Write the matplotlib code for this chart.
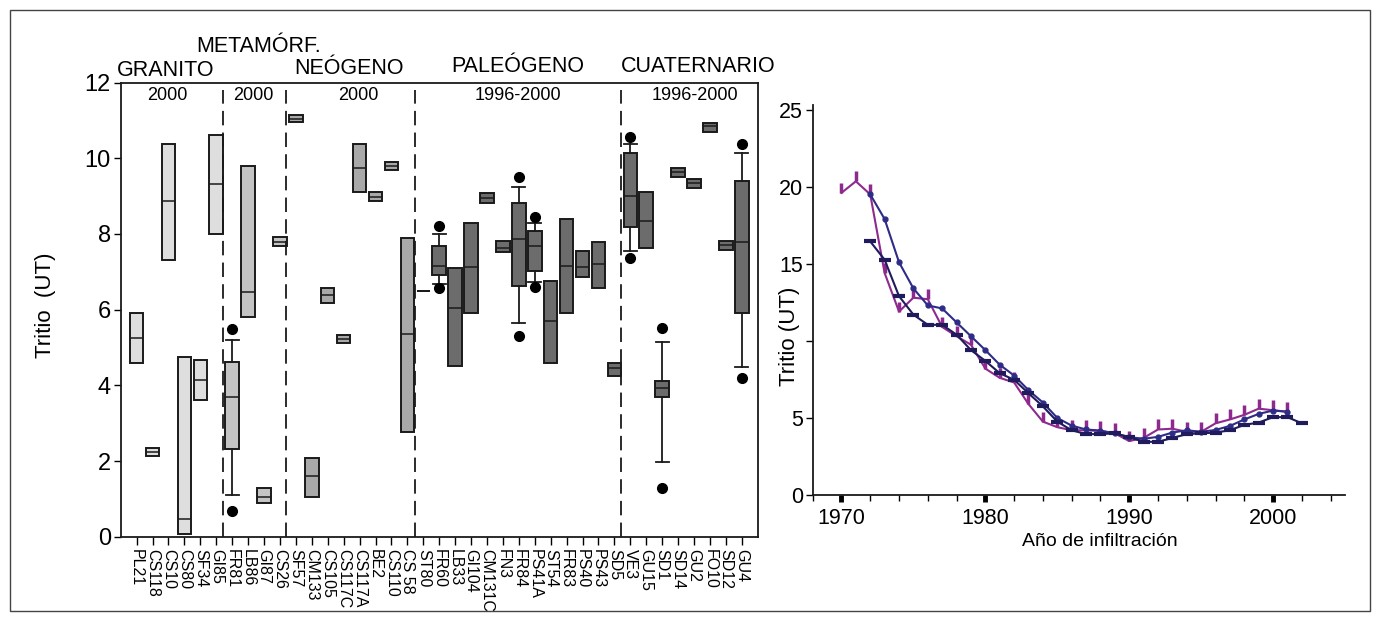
import matplotlib
matplotlib.use("Agg")
import matplotlib.pyplot as plt
from matplotlib.patches import Rectangle
from matplotlib.ticker import MultipleLocator

plt.rcParams['font.family'] = ['Liberation Sans', 'DejaVu Sans']

# ---------------- Left chart data (box plots) ----------------
labels = ['PL21', 'CS118', 'CS10', 'CS80', 'SF34', 'GI85', 'FR81', 'LB86', 'GI87', 'CS26',
          'SF57', 'CM133', 'CS105', 'CS117C', 'CS117A', 'BE2', 'CS110', 'CS 58', 'ST80', 'FR60',
          'LB33', 'GI104', 'CM131C', 'FN3', 'FR84', 'PS41A', 'ST54', 'FR83', 'PS40', 'PS43',
          'SD5', 'VE3', 'GU15', 'SD1', 'SD14', 'GU2', 'FO10', 'SD12', 'GU4']
group = [0, 0, 0, 0, 0, 0, 1, 1, 1, 1,
         2, 2, 2, 2, 2, 2, 2, 2, 3, 3,
         3, 3, 3, 3, 3, 3, 3, 3, 3, 3,
         3, 4, 4, 4, 4, 4, 4, 4, 4]
q1 = [4.58, 2.14, 7.30, 0.07, 3.60, 8.00, 2.33, 5.80, 0.88, 7.67,
      10.95, 1.06, 6.18, 5.13, 9.12, 8.86, 9.70, 2.77, 6.50, 6.92,
      4.52, 5.90, 8.83, 7.52, 6.63, 7.03, 4.58, 5.90, 6.87, 6.58,
      4.25, 8.19, 7.62, 3.70, 9.51, 9.22, 10.70, 7.58, 5.90]
med = [5.26, 2.24, 8.87, 0.48, 4.13, 9.31, 3.69, 6.47, 1.06, 7.80,
       11.05, 1.60, 6.39, 5.23, 9.75, 8.99, 9.80, 5.35, 6.50, 7.16,
       6.04, 7.12, 8.96, 7.64, 7.86, 7.69, 5.69, 7.16, 7.12, 7.21,
       4.45, 9.01, 8.34, 3.92, 9.63, 9.34, 10.84, 7.71, 7.78]
q3 = [5.90, 2.34, 10.38, 4.76, 4.67, 10.62, 4.61, 9.80, 1.28, 7.93,
      11.15, 2.07, 6.56, 5.33, 10.38, 9.11, 9.89, 7.89, 6.50, 7.69,
      7.11, 8.28, 9.09, 7.82, 8.83, 8.09, 6.76, 8.39, 7.54, 7.79,
      4.60, 10.13, 9.12, 4.11, 9.74, 9.45, 10.94, 7.82, 9.40]
# whiskers / outliers only where drawn (absent = no whisker)
whislo = {'FR81': 1.10, 'FR60': 6.68, 'FR84': 5.66, 'PS41A': 6.74, 'VE3': 7.56, 'SD1': 1.98, 'GU4': 4.48}
whishi = {'FR81': 5.20, 'FR60': 7.99, 'FR84': 9.25, 'PS41A': 8.28, 'VE3': 10.38, 'SD1': 5.15, 'GU4': 10.14}
fliers = {'FR81': [5.49, 0.68], 'FR60': [8.21, 6.56], 'FR84': [9.50, 5.30], 'PS41A': [8.44, 6.61],
          'VE3': [10.55, 7.37], 'SD1': [5.51, 1.28], 'GU4': [10.37, 4.20]}
group_names = ['GRANITO', 'METAMÓRF.', 'NEÓGENO', 'PALEÓGENO', 'CUATERNARIO']
group_years = ['2000', '2000', '2000', '1996-2000', '1996-2000']
group_colors = ['#dedede', '#c4c4c4', '#a9a9a9', '#6c6c6c', '#6c6c6c']

# ---------------- Right chart data (lines) ----------------
years_purple = list(range(1970, 2002))
purple = [19.6, 20.35, 19.5, 14.4, 11.9, 12.8, 12.7, 10.9, 10.3, 9.75,
          8.2, 7.6, 7.3, 5.9, 4.76, 4.4, 4.2, 4.2, 4.15, 4.0,
          3.5, 3.7, 4.25, 4.3, 4.1, 4.1, 4.65, 4.9, 5.2, 5.6,
          5.5, 5.4]
years_dot = list(range(1972, 2002))
navy_dot = [19.5, 17.9, 15.1, 13.4, 12.3, 12.1, 11.2, 10.3, 9.4, 8.45,
            7.75, 6.8, 6.0, 5.0, 4.5, 4.25, 4.18, 4.0, 3.75, 3.65,
            3.77, 4.05, 4.2, 4.1, 4.22, 4.48, 4.9, 5.26, 5.48, 5.4]
years_dash = list(range(1972, 2003))
navy_dash = [16.45, 15.26, 12.9, 11.7, 11.04, 11.04, 10.4, 9.4, 8.7, 7.9,
             7.47, 6.6, 5.75, 4.76, 4.2, 3.95, 3.95, 4.0, 3.75, 3.45,
             3.45, 3.7, 3.95, 4.0, 4.05, 4.2, 4.55, 4.7, 5.05, 5.05,
             4.65]

W, H = 1380, 621
fig = plt.figure(figsize=(W / 100, H / 100), dpi=100)


def fx(px):
    return px / W


def fy(py):
    return 1 - py / H


# outer frame
fig.patches.append(Rectangle((fx(10), fy(611)), fx(1370) - fx(10), fy(10) - fy(611),
                             transform=fig.transFigure, fill=False, edgecolor='#444444',
                             linewidth=1.0))

# ---------------- Left axes ----------------
ax1 = fig.add_axes([fx(120.7), fy(536.7), fx(757.7) - fx(120.7), (536.7 - 82.6) / H])
positions = list(range(1, len(labels) + 1))
stats = []
for i, lab in enumerate(labels):
    stats.append({
        'label': lab,
        'q1': q1[i], 'med': med[i], 'q3': q3[i],
        'whislo': whislo.get(lab, q1[i]),
        'whishi': whishi.get(lab, q3[i]),
        'fliers': fliers.get(lab, []),
    })
bp = ax1.bxp(stats, positions=positions, widths=0.85, capwidths=0.8,
             patch_artist=True, manage_ticks=False,
             boxprops=dict(edgecolor='#1a1a1a', linewidth=1.4),
             medianprops=dict(color='#1a1a1a', linewidth=1.1),
             whiskerprops=dict(color='#1a1a1a', linewidth=1.3),
             capprops=dict(color='#1a1a1a', linewidth=1.3),
             flierprops=dict(marker='o', markerfacecolor='black', markeredgecolor='black',
                             markersize=7, linestyle='none'))
for patch, g in zip(bp['boxes'], group):
    patch.set_facecolor(group_colors[g])
for i, lab in enumerate(labels):
    if lab not in whislo:
        bp['caps'][2 * i].set_visible(False)
        bp['caps'][2 * i + 1].set_visible(False)

for xv in [6.41, 10.36, 18.48, 31.4]:
    ax1.plot([xv, xv], [0, 11.8], color='#1a1a1a', linewidth=1.3, linestyle=(0, (8, 4)))

ax1.set_xlim(0, 40)
ax1.set_ylim(0, 12)
ax1.set_xticks(positions)
ax1.set_xticklabels(labels, rotation=270, fontsize=11.5, ha='center', va='top')
ax1.set_yticks(range(0, 13, 2))
ax1.tick_params(axis='y', labelsize=17, length=5, width=1.0, direction='out', pad=2)
ax1.tick_params(axis='x', length=6, width=1.0, direction='out', pad=3)
for s in ax1.spines.values():
    s.set_linewidth(1.3)
    s.set_color('#1a1a1a')

fig.text(fx(46), fy(305), 'Tritio  (UT)', rotation=90, ha='center', va='center', fontsize=16)

# group titles above the axes
title_pos = [(166, 70.7), (259, 46), (349, 68), (518, 67), (698, 67)]
for name, (px_, py_) in zip(group_names, title_pos):
    fig.text(fx(px_), fy(py_), name, ha='center', va='center', fontsize=15.5)
year_pos = [167.5, 253, 358, 517.5, 695]
for yr, px_ in zip(group_years, year_pos):
    fig.text(fx(px_), fy(95), yr, ha='center', va='center', fontsize=13)

# ---------------- Right axes ----------------
ax2 = fig.add_axes([fx(812.7), fy(495), (1345 - 812.7) / W, (495 - 105) / H])
ax2.plot(years_purple, purple, color='#8e2a8e', linewidth=1.5, marker=2,
         markersize=7, markeredgewidth=2.5)
ax2.plot(years_dot, navy_dot, color='#2e2c86', linewidth=1.5, marker='o',
         markersize=3.5)
ax2.plot(years_dash, navy_dash, color='#1f1b5c', linewidth=1.5, marker='_',
         markersize=8, markeredgewidth=3)
ax2.set_xlim(1968, 2005)
ax2.set_ylim(0, 25.3)
ax2.set_xticks([1970, 1980, 1990, 2000])
ax2.xaxis.set_minor_locator(MultipleLocator(2))
ax2.set_yticks([0, 5, 10, 15, 20, 25])
ax2.set_yticklabels(['0', '5', '', '15', '20', '25'])
ax2.tick_params(axis='x', which='major', length=5, width=3.5, labelsize=15.5, pad=4)
ax2.tick_params(axis='x', which='minor', length=4.5, width=1.0)
ax2.tick_params(axis='y', length=5, width=1.0, labelsize=15.5, pad=2)
ax2.spines['top'].set_visible(False)
ax2.spines['right'].set_visible(False)
for s in ['left', 'bottom']:
    ax2.spines[s].set_linewidth(1.3)
    ax2.spines[s].set_color('#1a1a1a')

fig.text(fx(790), fy(336.7), 'Tritio (UT)', rotation=90, ha='center', va='center', fontsize=16)
fig.text(fx(1100), fy(542), 'Año de infiltración', ha='center', va='center', fontsize=14)

fig.savefig('out.png', dpi=100)
